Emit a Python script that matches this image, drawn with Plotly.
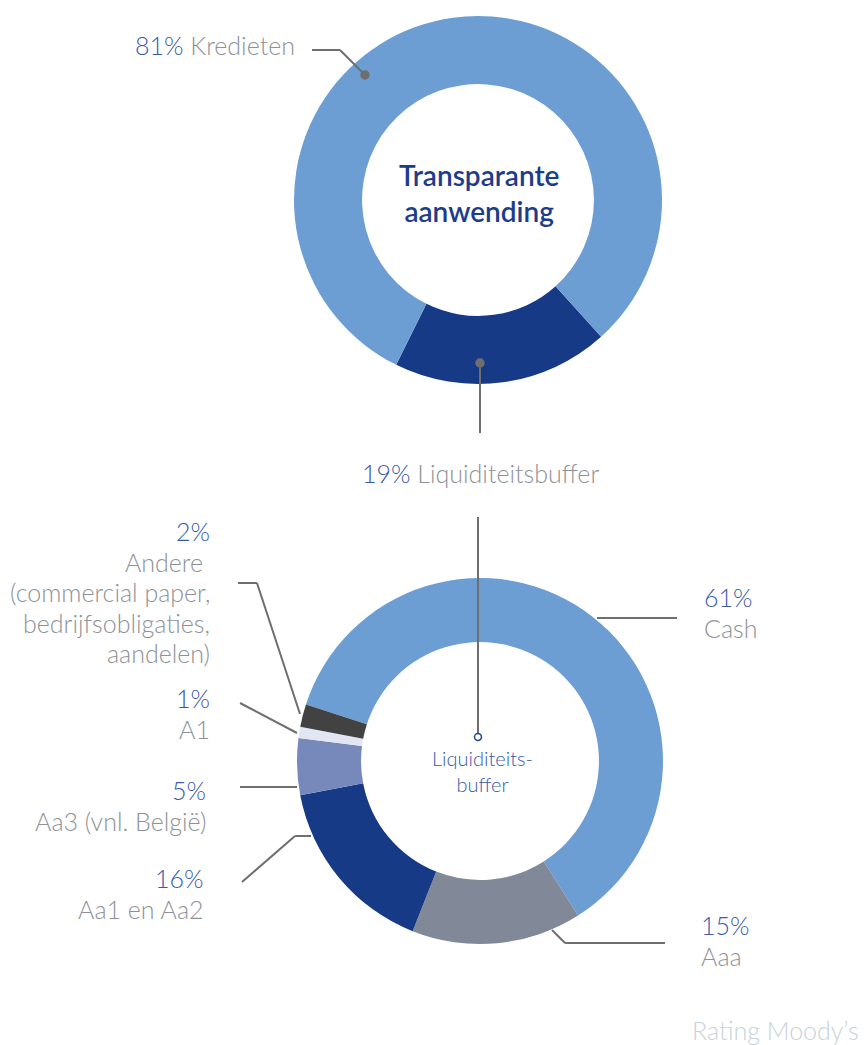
import plotly.graph_objects as go

# top donut
top_labels = ["Liquiditeitsbuffer", "Kredieten"]
top_values = [19, 81]
top_colors = ["#173a86", "#6c9ed4"]

# bottom donut (liquidity buffer by rating)
bot_labels = ["Cash", "Aaa", "Aa1 en Aa2", "Aa3 (vnl. België)", "A1",
              "Andere\u00a0|(commercial paper,|bedrijfsobligaties,|aandelen)"]
bot_values = [61, 15, 16, 5, 1, 2]
bot_colors = ["#6c9ed4", "#818897", "#173a86", "#7789bb", "#e2e6f2", "#424242"]

W, H = 864, 1045
PCT = "#3b5aa5"
NAME = "#8e9297"
LINE = "#6e6e6e"


def px(x):
  return x / W


def py(y):
  return 1 - y / H


fig = go.Figure()

fig.add_trace(go.Pie(
  labels=top_labels, values=top_values, hole=0.63, sort=False,
  direction="clockwise", rotation=138, textinfo="none", hoverinfo="label+percent",
  marker={"colors": top_colors, "line": {"width": 0}},
  domain={"x": [px(294), px(662)], "y": [py(384), py(16)]},
  showlegend=False,
))

fig.add_trace(go.Pie(
  labels=[l.replace("|", " ") for l in bot_labels], values=bot_values,
  hole=0.65, sort=False,
  direction="clockwise", rotation=288, textinfo="none", hoverinfo="label+percent",
  marker={"colors": bot_colors, "line": {"width": 0}},
  domain={"x": [px(297), px(663)], "y": [py(944), py(578)]},
  showlegend=False,
))

shapes = []


def leader(points):
  for (x0, y0), (x1, y1) in zip(points[:-1], points[1:]):
    shapes.append(dict(type="line", xref="paper", yref="paper",
                       x0=px(x0), y0=py(y0), x1=px(x1), y1=py(y1),
                       line={"color": LINE, "width": 2}))


def dot(x, y, r=4, fill=LINE, edge=LINE):
  shapes.append(dict(type="circle", xref="paper", yref="paper",
                     x0=px(x - r), x1=px(x + r), y0=py(y + r), y1=py(y - r),
                     fillcolor=fill, line={"color": edge, "width": 1.5}))


leader([(365, 75), (340, 50), (312, 50)])
dot(365, 75)
leader([(480, 363), (480, 433)])
dot(480, 363)
leader([(478, 517), (478, 733)])
dot(478, 737, r=3.5, fill="white", edge="#1f4a8a")

leader([(238, 583), (257, 583), (300, 714)])
leader([(240, 703), (297, 733)])
leader([(240, 787), (297, 787)])
leader([(242, 882), (295, 836), (311, 836)])
leader([(597, 618), (677, 618)])
leader([(552, 930), (565, 943), (665, 943)])

fnt = {"family": "Lato Light, Lato, sans-serif", "size": 25, "color": NAME, "weight": 300}
annotations = []


def label(x, y, anchor, pct_value, name):
  # percentage on first line, name lines below, 30.5px apart
  lines = [f"<span style='color:{PCT}'>{pct_value}%</span>"] + name.split("|")
  for i, t in enumerate(lines):
    annotations.append(dict(x=px(x), y=py(y + i * 30.5), xanchor=anchor,
                            yanchor="middle", text=t))


annotations.append(dict(x=px(297), y=py(45), xanchor="right", yanchor="middle",
                        text=f"<span style='color:{PCT}'>{top_values[1]}%</span> {top_labels[1]}"))
annotations.append(dict(x=px(480), y=py(473), xanchor="center", yanchor="middle",
                        text=f"<span style='color:{PCT}'>{top_values[0]}%</span> {top_labels[0]}"))

label(212, 531, "right", bot_values[5], bot_labels[5])
label(212, 698, "right", bot_values[4], bot_labels[4])
label(208, 790, "right", bot_values[3], bot_labels[3])
label(206, 878, "right", bot_values[2], bot_labels[2])
label(702, 597, "left", bot_values[0], bot_labels[0])
label(699, 925, "left", bot_values[1], bot_labels[1])

annotations += [
  dict(x=px(861), y=py(1030), xanchor="right", yanchor="middle",
       text="Rating Moody’s", font={**fnt, "color": "#c8d2da"}),
  dict(x=px(479), y=py(193), xanchor="center", yanchor="middle",
       text="Transparante<br>aanwending",
       font={"family": "Lato", "size": 28, "color": "#1d3c8a", "weight": 600}),
  dict(x=px(482), y=py(771), xanchor="center", yanchor="middle",
       text="Liquiditeits-<br>buffer",
       font={"family": "Lato Light, Lato, sans-serif", "size": 20,
             "color": "#3b5aa5", "weight": 300}),
]
for a in annotations:
  a.update({"xref": "paper", "yref": "paper", "showarrow": False})
  a.setdefault("font", fnt)

fig.update_layout(
  width=W, height=H,
  margin={"l": 0, "r": 0, "t": 0, "b": 0},
  paper_bgcolor="white", plot_bgcolor="white",
  shapes=shapes, annotations=annotations,
  showlegend=False,
)

# page body has an 8px default margin; drop it so the figure sits at 0,0
fig.write_html("out.html", config={"displayModeBar": False},
               post_script="document.body.style.margin='0';")
